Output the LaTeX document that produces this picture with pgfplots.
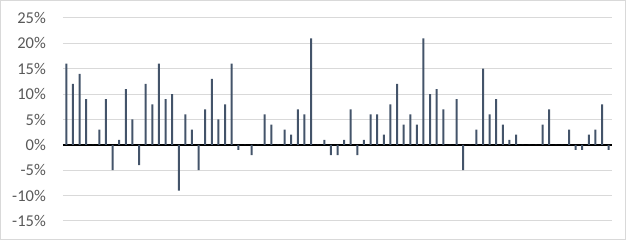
\documentclass[border=0pt]{standalone}
\usepackage{pgfplots}
\pgfplotsset{compat=1.18}
\usepackage{fontspec}
\setmainfont{Carlito}
\definecolor{barc}{HTML}{44546A}
\definecolor{gridc}{HTML}{D9D9D9}
\definecolor{labc}{HTML}{595959}
\begin{document}
\begin{tikzpicture}[x=1pt,y=1pt]
\useasboundingbox (0,0) rectangle (626,240);
\draw[gridc, line width=1pt] (0.5,0.5) rectangle (625.5,239.5);
\begin{axis}[
  at={(63pt,19pt)}, anchor=south west,
  scale only axis, width=549pt, height=203pt,
  xmin=-0.5, xmax=82.5, ymin=-15, ymax=25,
  ytick={-15,-10,...,25},
  xtick=\empty,
  ymajorgrids, grid style={gridc, line width=1pt},
  axis line style={draw=none},
  major tick length=0pt,
  /pgf/number format/assume math mode=true,
  yticklabel={\pgfmathprintnumber{\tick}\%},
  yticklabel style={font=\fontsize{16.5}{19}\selectfont, text=labc, inner sep=0pt, anchor=east, xshift=-17pt},
  extra y ticks={0}, extra y tick labels={},
  extra y tick style={grid style={black, line width=1.6pt}},
  ybar, bar width=2pt, bar shift=0pt,
]
\addplot[fill=barc, draw=none] coordinates {
(0,16)(1,12)(2,14)(3,9)(4,0)(5,3)(6,9)(7,-5)(8,1)(9,11)(10,5)(11,-4)(12,12)(13,8)(14,16)(15,9)(16,10)(17,-9)(18,6)(19,3)(20,-5)
(21,7)(22,13)(23,5)(24,8)(25,16)(26,-1)(27,0)(28,-2)(29,0)(30,6)(31,4)(32,0)(33,3)(34,2)(35,7)(36,6)(37,21)(38,0)(39,1)(40,-2)
(41,-2)(42,1)(43,7)(44,-2)(45,1)(46,6)(47,6)(48,2)(49,8)(50,12)(51,4)(52,6)(53,4)(54,21)(55,10)(56,11)(57,7)(58,0)(59,9)(60,-5)
(61,0)(62,3)(63,15)(64,6)(65,9)(66,4)(67,1)(68,2)(69,0)(70,0)(71,0)(72,4)(73,7)(74,0)(75,0)(76,3)(77,-1)(78,-1)(79,2)(80,3)
(81,8)(82,-1)
};
\end{axis}
\end{tikzpicture}
\end{document}
